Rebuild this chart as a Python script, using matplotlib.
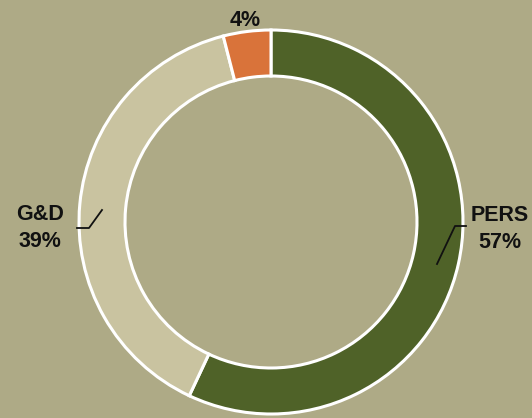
import matplotlib
matplotlib.use("Agg")
import matplotlib.pyplot as plt

labels = ["PERS", "G&D", ""]
values = [57, 39, 4]
pct_labels = ["57%", "39%", "4%"]
colors = ["#4f6228", "#c9c3a0", "#d9733a"]

BG = "#aeaa86"
W, H = 532, 418
cx, cy = 271, H - 222

fig = plt.figure(figsize=(W / 100, H / 100), dpi=100, facecolor=BG)
ax = fig.add_axes([0, 0, 1, 1])
ax.set_facecolor(BG)

ax.pie(values, startangle=90, counterclock=False, radius=192, center=(cx, cy),
       colors=colors, frame=True,
       wedgeprops=dict(width=46, edgecolor="white", linewidth=2.2))
ax.set_xlim(0, W); ax.set_ylim(0, H)
ax.set_aspect("equal")
ax.axis("off")

font = dict(family=["Liberation Sans", "DejaVu Sans"], weight="bold", color="#111111")
ax.text(500, H - 229, f"{labels[0]}\n{pct_labels[0]}", ha="center", va="center",
        fontsize=15.5, linespacing=1.35, **font)
ax.text(40, H - 228, f"{labels[1]}\n{pct_labels[1]}", ha="center", va="center",
        fontsize=15.5, linespacing=1.35, **font)
ax.text(245, H - 21, pct_labels[2], ha="center", va="center", fontsize=15.5, **font)

# leader lines
ax.plot([466, 455, 437], [H - 226, H - 226, H - 264], color="#111111", lw=1.3)
ax.plot([77, 89, 102], [H - 228, H - 228, H - 210], color="#111111", lw=1.3)

fig.savefig("out.png", dpi=100, facecolor=BG)
